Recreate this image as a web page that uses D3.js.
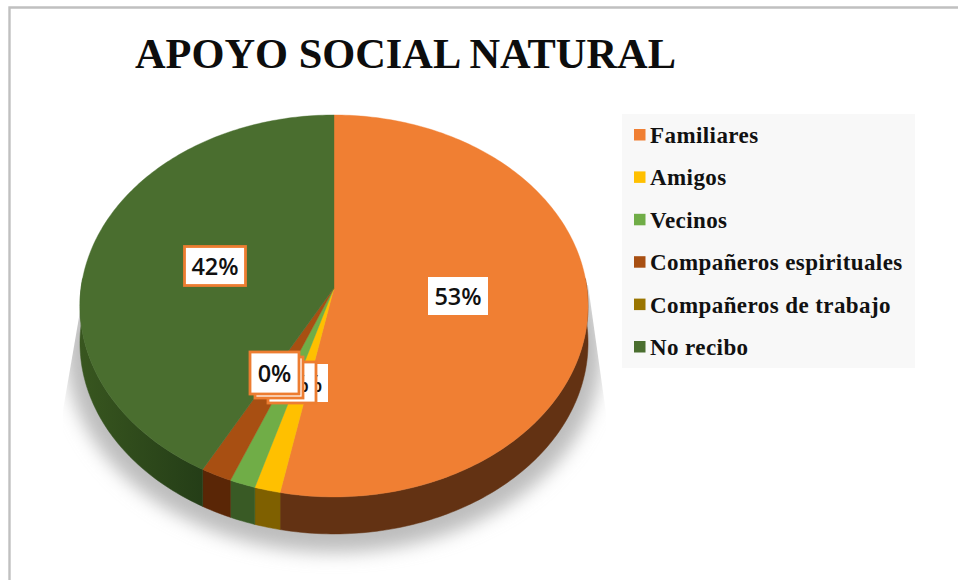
<!DOCTYPE html>
<html><head><meta charset="utf-8">
<script src="https://cdn.jsdelivr.net/npm/d3@7"></script>
<style>html,body{margin:0;padding:0;background:#fff}svg{display:block}</style>
</head><body><svg id="c" width="958" height="580"></svg>
<script>
const categories = ["Familiares","Amigos","Vecinos","Compañeros espirituales","Compañeros de trabajo","No recibo"];
const values = [53.1,1.5,1.5,1.8,0,42.1];
const colors = ["#f07f33","#ffc000","#70ad47","#a84f12","#9a7500","#4a6e2f"];
const sideColors = ["#633213","#7f6000","#395a25","#5a2606","#7f6000","url(#wallGreen)"];
const title = "APOYO SOCIAL NATURAL";

const svg = d3.select("#c");
svg.append("path").attr("d","M9.5,580V7.5H958").attr("fill","none").attr("stroke","#c0c0c0").attr("stroke-width",2.4);

svg.append("text").text(title).attr("x",135).attr("y",68)
  .attr("font-family","'Liberation Serif'").attr("font-weight","bold").attr("font-size",42.4).attr("fill","#0d0d0d");

const defs = svg.append("defs");
defs.append("filter").attr("id","blur").attr("x","-20%").attr("y","-20%").attr("width","140%").attr("height","140%")
  .append("feGaussianBlur").attr("stdDeviation",9);
const wall = defs.append("linearGradient").attr("id","wallGreen").attr("gradientUnits","userSpaceOnUse")
  .attr("x1",80).attr("x2",204).attr("y1",0).attr("y2",0);
wall.append("stop").attr("offset",0).attr("stop-color","#38561f");
wall.append("stop").attr("offset",1).attr("stop-color","#243d17");

// pie geometry: perspective projection of a unit disc
const cx=334, apexY=288, k=-0.094, ay=189.3, bx=252.9, depth=37;
const proj = (a,dz=0,sc=1)=>{
  const u=Math.sin(a), v=-Math.cos(a), w=1+k*v;
  return [cx+sc*bx*u/w, apexY+sc*ay*v/w+dz];
};
const pie = d3.pie().sort(null).value(d=>d)(values);
const line = d3.line();
const arcPts=(a0,a1,dz=0,sc=1)=>{const n=Math.max(2,Math.ceil((a1-a0)*60));return d3.range(n+1).map(i=>proj(a0+(a1-a0)*i/n,dz,sc));};

// shadow: blurred disc cut by a wedge with hard side edges
const wedge=[[82,300],[63,410],[63,575],[606,575],[606,413],[588,285]];
defs.append("clipPath").attr("id","shclip").append("path").attr("d",line(wedge)+"Z");
svg.append("g").attr("clip-path","url(#shclip)")
  .append("path").attr("d",line(arcPts(0,2*Math.PI,44,1.055))+"Z").attr("fill","#bdbdbd").attr("filter","url(#blur)");

// side walls (only front half visible)
pie.forEach((d,i)=>{
  const a0=Math.max(d.startAngle,Math.PI/2-0.05), a1=Math.min(d.endAngle,3*Math.PI/2+0.05);
  if(a1<=a0) return;
  const top=arcPts(a0,a1), bot=arcPts(a0,a1,depth).reverse();
  svg.append("path").attr("d",line(top.concat(bot))+"Z").attr("fill",sideColors[i]).attr("stroke",sideColors[i]).attr("stroke-width",0.5);
});
// top faces
pie.forEach((d,i)=>{
  if(d.endAngle-d.startAngle<=0) return;
  svg.append("path").attr("d",line([[cx,apexY]].concat(arcPts(d.startAngle,d.endAngle)))+"Z")
    .attr("fill",colors[i]).attr("stroke",colors[i]).attr("stroke-width",0.4);
});

// data labels, back to front
const labelPos=[
 {i:0,x:428,y:277,w:60,h:38,border:false},
 {i:1,x:283,y:364,w:45,h:38,border:false},
 {i:2,x:268,y:362,w:48,h:41,border:true},
 {i:3,x:255,y:357,w:48,h:41,border:true},
 {i:4,x:250,y:352,w:49,h:42,border:true},
 {i:5,x:184.5,y:246.5,w:61,h:39,border:true},
];
labelPos.forEach(l=>{
  svg.append("rect").attr("x",l.x).attr("y",l.y).attr("width",l.w).attr("height",l.h)
    .attr("fill","#fff").attr("stroke",l.border?"#ed7d31":"none").attr("stroke-width",l.border?2.8:0);
  svg.append("text").text(Math.round(values[l.i])+"%").attr("x",l.x+l.w/2).attr("y",l.y+l.h/2+9)
    .attr("text-anchor","middle").attr("font-family","'Open Sans'").attr("font-weight",600).attr("font-size",23.5).attr("fill","#111");
});

// legend
const lg=svg.append("g");
lg.append("rect").attr("x",622).attr("y",114).attr("width",293).attr("height",254).attr("fill","#f8f8f8");
const ly=d3.scalePoint().domain(categories).range([135,347]);
categories.forEach((c,i)=>{
  lg.append("rect").attr("x",634).attr("y",ly(c)-6).attr("width",11.5).attr("height",11.5).attr("fill",colors[i]);
  lg.append("text").text(c).attr("x",650).attr("y",ly(c)+8).attr("font-family","'Liberation Serif'").attr("font-weight","bold")
    .attr("font-size",23).attr("letter-spacing",0.42).attr("fill","#111");
});
</script></body></html>
